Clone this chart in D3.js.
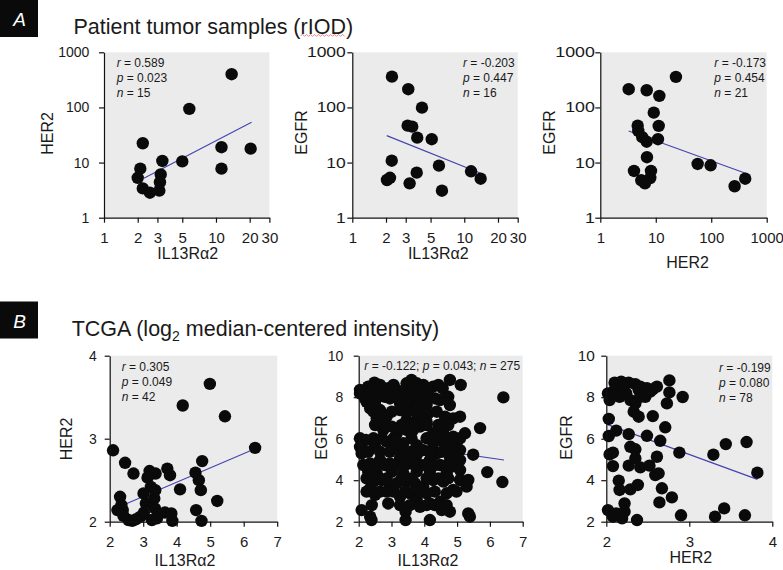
<!DOCTYPE html>
<html><head><meta charset="utf-8">
<script src="https://cdn.jsdelivr.net/npm/d3@7/dist/d3.min.js"></script>
<style>
body{margin:0;background:#fff}
svg{display:block}
text{font-family:"Liberation Sans",Arial,sans-serif;fill:#1a1a1a}
</style>
</head><body><svg id="c" width="783" height="570"></svg>
<script>
// ---------- DATA ----------
const titleA = "Patient tumor samples (rIOD)";
const titleAmark = "rIOD";
const titleB1 = "TCGA (log", titleBsub = "2", titleB2 = " median-centered intensity)";

const xTicksA12 = [1, 2, 3, 5, 10, 20, 30];
const xTicksA3 = [1, 10, 100, 1000];
const yTicksA = [1, 10, 100, 1000];
const xTicksB12 = [2, 3, 4, 5, 6, 7];
const yTicksB1 = [2, 3, 4];
const yTicksB23 = [2, 4, 6, 8, 10];
const xTicksB3 = [2, 3, 4];

// A1: IL13Ra2 vs HER2 (n=15)
const a1_il13 = [13.8, 5.78, 2.22, 11.2, 20.4, 3.32, 5.0, 11.2, 2.11, 2.0, 3.21, 3.16, 2.22, 2.57, 3.12];
const a1_her2 = [400, 94, 22.4, 19, 17.9, 10.7, 10.5, 7.75, 7.75, 5.3, 6.1, 4.4, 3.4, 2.84, 3.1];
const a1_fitX = [2.27, 20.8], a1_fitY = [5.18, 53.8];
const a1_stats = [["r", "0.589"], ["p", "0.023"], ["n", "15"]];

// A2: IL13Ra2 vs EGFR (n=16)
const a2_il13 = [2.26, 3.16, 4.19, 3.12, 3.43, 3.8, 5.12, 2.25, 5.94, 11.5, 14.0, 3.76, 3.25, 6.32, 2.04, 2.17];
const a2_egfr = [362, 214, 99, 46.7, 44.8, 28.3, 26.5, 10.8, 8.8, 6.95, 5.1, 6.56, 4.2, 3.09, 4.83, 5.3];
const a2_fitX = [2.03, 14.0], a2_fitY = [30.8, 6.4];
const a2_stats = [["r", "-0.203"], ["p", "0.447"], ["n", "16"]];

// A3: HER2 vs EGFR (n=21)
const a3_her2 = [23.1, 3.25, 6.86, 11.6, 9.2, 4.72, 11.3, 4.84, 5.71, 6.86, 10.96, 6.94, 4.05, 8.2, 7.96, 5.48, 6.39, 56.9, 97.5, 264, 410];
const a3_egfr = [358, 214, 205, 162, 80.5, 46.7, 46.2, 37.4, 28.8, 23.9, 26.5, 12.5, 7.04, 7.04, 5.25, 4.77, 4.2, 9.43, 8.93, 3.72, 5.1];
const a3_fitX = [3.25, 453], a3_fitY = [37.4, 6.2];
const a3_stats = [["r", "-0.173"], ["p", "0.454"], ["n", "21"]];

// B1: IL13Ra2 vs HER2 (n=42)
const b1_il13 = [4.99,4.18,5.44,2.10,6.34,2.46,4.76,2.71,3.19,3.37,3.72,3.80,4.56,4.66,3.13,3.23,4.10,4.72,3.01,2.31,3.33,5.21,2.35,2.39,3.35,4.58,2.41,2.56,2.67,2.92,3.02,3.26,3.41,3.65,3.84,3.87,4.74,3.08,3.36,2.23,2.79,3.47];
const b1_her2 = [3.66,3.40,3.27,2.86,2.89,2.71,2.73,2.58,2.61,2.58,2.64,2.56,2.59,2.50,2.53,2.42,2.39,2.38,2.34,2.30,2.28,2.25,2.20,2.14,2.16,2.14,2.07,2.02,2.01,2.06,2.11,2.02,2.04,2.11,2.10,2.01,2.01,2.22,2.38,2.14,2.03,2.10];
const b1_fitX = [2.11, 6.34], b1_fitY = [2.15, 2.88];
const b1_stats = [["r", "0.305"], ["p", "0.049"], ["n", "42"]];

// B2: IL13Ra2 vs EGFR (n=275, points as read from the dense cloud)
const b2_il13 = [2.48,2.29,2.04,3.61,3.46,3.77,4.27,4.56,4.78,5.11,2.90,3.16,
 2.04,2.35,2.60,2.24,2.50,2.80,3.06,3.36,3.66,3.97,4.17,4.48,4.73,3.26,3.56,3.87,4.07,4.78,
 2.35,2.65,2.85,2.55,3.26,3.56,3.87,4.12,3.46,3.77,4.07,4.63,4.88,5.09,
 2.04,2.22,2.75,3.01,3.16,3.46,3.66,3.87,4.27,4.58,4.88,5.24,5.70,
 2.04,2.09,2.50,2.85,3.11,3.36,3.77,3.97,4.27,4.48,4.68,4.98,5.09,5.49,3.46,3.77,4.38,4.78,5.09,
 2.35,2.65,2.95,3.26,3.56,3.87,4.17,4.48,4.83,5.09,2.29,2.55,3.01,3.36,3.77,4.17,4.68,
 2.24,2.45,2.35,2.70,2.95,3.16,3.46,3.72,3.97,4.27,4.58,4.88,5.09,5.34,5.92,6.38,5.29,
 2.50,2.85,2.90,3.26,3.56,3.77,4.07,4.17,4.48,4.68,3.87,
 2.09,2.35,2.39,3.43,3.43,4.17,4.78,5.34,5.39,4.53,
 6.41,
 2.65,3.06,3.97,4.43,
 2.19,2.50,2.95,3.21,3.51,3.82,4.33,4.64,
 2.45,3.01,3.41,3.72,4.02,4.38,
 2.50,2.80,3.31,3.61,4.07,4.43,4.73,
 2.45,2.70,3.06,3.61,4.07,4.32,4.73,5.09,
 2.29,2.65,2.95,3.26,3.61,4.17,4.53,4.88,
 2.14,2.50,2.80,3.11,3.41,3.72,4.02,4.32,4.68,
 2.55,2.85,3.31,3.61,4.07,4.43,4.73,
 2.24,2.65,3.06,3.41,3.87,4.32,4.98,
 2.40,3.26,3.56,4.07,4.32,4.68];
const b2_egfr = [8.70,8.51,8.35,8.83,8.67,8.67,8.51,8.43,8.83,8.59,8.43,8.35,
 8.18,8.18,8.27,7.78,7.78,8.02,8.02,8.18,8.35,8.27,8.02,7.86,8.02,7.70,7.70,7.78,7.62,7.62,
 7.46,7.38,7.06,6.98,7.38,7.38,7.30,7.22,6.90,6.90,6.82,7.06,6.98,7.06,
 6.02,5.94,6.42,6.58,6.26,6.42,6.42,6.58,6.26,6.26,6.10,6.26,6.51,
 5.61,5.29,5.61,5.86,5.61,5.78,5.69,5.45,5.78,5.94,5.61,5.78,5.45,5.23,5.29,5.21,5.29,5.13,4.97,
 4.81,4.97,4.81,5.05,4.81,4.73,4.97,4.73,4.65,4.49,4.41,4.33,4.41,4.33,4.41,4.41,4.33,
 4.09,3.93,3.61,4.01,3.69,3.85,3.93,3.85,3.69,4.01,3.93,3.53,4.01,4.01,4.39,3.91,3.69,
 3.29,3.45,2.88,3.20,3.37,3.04,3.37,2.88,2.96,3.37,2.72,
 2.56,2.24,2.08,2.48,2.08,2.08,2.48,2.40,2.24,2.56,
 7.99,
 8.59,8.59,8.59,8.59,
 7.94,7.94,7.94,7.94,7.94,7.94,7.94,7.94,
 7.30,7.30,7.30,7.30,7.30,7.30,
 6.66,6.66,6.66,6.66,6.66,6.66,6.66,
 6.02,6.02,6.02,6.02,6.02,6.02,6.02,6.02,
 5.37,5.37,5.37,5.37,5.37,5.37,5.37,5.37,
 4.73,4.73,4.73,4.73,4.73,4.73,4.73,4.73,4.73,
 4.09,4.09,4.09,4.09,4.09,4.09,4.09,
 3.45,3.45,3.45,3.45,3.45,3.45,3.45,
 2.80,2.80,2.80,2.80,2.80,2.80];
const b2_fitX = [2.04, 6.43], b2_fitY = [5.98, 4.97];
const b2_stats = [["r", "-0.122"], ["p", "0.043"], ["n", "275"]];

// B3: HER2 vs EGFR (n=78)
const b3_her2 = [2.76,2.76,2.92,2.10,2.18,2.27,2.35,2.41,2.49,2.56,2.10,2.02,2.04,2.16,2.24,2.29,2.39,2.47,2.53,2.35,2.20,2.61,2.41,2.73,
 2.56,2.33,2.39,2.03,2.71,2.03,2.12,2.27,2.49,2.65,2.29,2.35,2.35,2.04,2.08,2.08,2.27,2.41,2.52,2.61,2.63,2.59,2.88,
 3.29,3.44,3.69,3.82,2.15,2.16,2.29,2.38,2.67,2.79,2.64,2.22,2.02,2.08,2.22,2.19,2.37,2.12,2.90,3.31,3.42,3.67];
const b3_egfr = [8.81,8.23,8.01,8.70,8.75,8.70,8.63,8.51,8.43,8.38,8.35,8.18,7.86,8.02,8.18,7.86,8.35,8.02,8.27,7.70,8.51,8.51,8.02,7.70,
 7.09,7.30,7.06,6.95,6.55,6.13,6.39,6.22,6.14,5.90,5.61,5.49,5.05,5.24,5.33,4.68,4.70,4.62,4.70,5.13,4.33,4.25,5.33,
 5.23,5.74,5.84,4.36,3.98,3.53,3.56,3.77,3.61,3.17,2.93,2.88,2.56,2.24,2.48,2.16,2.08,2.40,2.31,2.24,2.64,2.31];
const b3_fitX = [2.01, 3.82], b3_fitY = [6.69, 4.04];
const b3_stats = [["r", "-0.199"], ["p", "0.080"], ["n", "78"]];

// ---------- LAYOUT (pixels) ----------
const panels = [
  {xs:a1_il13, ys:a1_her2, fx:a1_fitX, fy:a1_fitY, stats:a1_stats, log:true, xd:[1,30], yd:[1,1000], xt:xTicksA12, yt:yTicksA,
   l:104, r:269.4, t:52.3, b:217.7, ypad:9.7, ystr:1, xTitle:"IL13Rα2", yTitle:"HER2", xtx:187.7, xty:259, ytx:53.3, yty:133.5, sx:116.7, sy:67, inline:false},
  {xs:a2_il13, ys:a2_egfr, fx:a2_fitX, fy:a2_fitY, stats:a2_stats, log:true, xd:[1,30], yd:[1,1000], xt:xTicksA12, yt:yTicksA,
   l:352.3, r:517.7, t:52.3, b:217.7, ypad:1.5, ystr:1.25, xTitle:"IL13Rα2", yTitle:"EGFR", xtx:438.3, xty:259, ytx:306.7, yty:132.5, sx:463, sy:67, inline:false},
  {xs:a3_her2, ys:a3_egfr, fx:a3_fitX, fy:a3_fitY, stats:a3_stats, log:true, xd:[1,1000], yd:[1,1000], xt:xTicksA3, yt:yTicksA,
   l:600.3, r:766.7, t:52.3, b:217.7, ypad:0.5, ystr:1.27, xTitle:"HER2", yTitle:"EGFR", xtx:687.5, xty:267.5, ytx:555, yty:132.5, sx:714.3, sy:67, inline:false},
  {xs:b1_il13, ys:b1_her2, fx:b1_fitX, fy:b1_fitY, stats:b1_stats, log:false, xd:[2,7], yd:[2,4], xt:xTicksB12, yt:yTicksB1,
   l:109.7, r:277.2, t:355.7, b:521.7, ypad:8, ystr:1, xTitle:"IL13Rα2", yTitle:"HER2", xtx:185, xty:566, ytx:71.7, yty:439, sx:121.7, sy:370.5, inline:false},
  {xs:b2_il13, ys:b2_egfr, fx:b2_fitX, fy:b2_fitY, stats:b2_stats, log:false, xd:[2,7], yd:[2,10], xt:xTicksB12, yt:yTicksB23,
   l:358.7, r:522.7, t:355.7, b:521.7, ypad:10.4, ystr:1, xTitle:"IL13Rα2", yTitle:"EGFR", xtx:428, xty:566, ytx:326.7, yty:437.5, sx:364.3, sy:370, inline:true},
  {xs:b3_her2, ys:b3_egfr, fx:b3_fitX, fy:b3_fitY, stats:b3_stats, log:false, xd:[2,4], yd:[2,10], xt:xTicksB3, yt:yTicksB23,
   l:606.3, r:772.3, t:355.7, b:521.7, ypad:6.5, ystr:1.1, xTitle:"HER2", yTitle:"EGFR", xtx:690.8, xty:563, ytx:571.7, yty:437.5, sx:719, sy:371.5, inline:false}
];

const svg = d3.select("#c");

function header(letter, y0, textFn) {
  svg.append("rect").attr("x", 0).attr("y", y0).attr("width", 38).attr("height", 37).attr("fill", "#0a0a0a");
  svg.append("text").attr("x", 19.5).attr("y", y0 + 26).attr("text-anchor", "middle")
    .attr("font-size", 19).attr("font-style", "italic").style("fill", "#fff").text(letter);
  textFn();
}
header("A", 0, () => {
  const t = svg.append("text").attr("x", 73.5).attr("y", 33.5).attr("font-size", 21.5).text(titleA);
  const idx = titleA.indexOf(titleAmark);
  const n = t.node();
  const x0 = 73.5 + n.getSubStringLength(0, idx);
  const x1 = x0 + n.getSubStringLength(idx, titleAmark.length);
  let d = `M${x0},35.5`, up = true;
  for (let x = x0 + 2; x <= x1; x += 2) { d += ` L${x},${up ? 34.4 : 36.4}`; up = !up; }
  svg.append("path").attr("d", d).attr("fill", "none").attr("stroke", "#e46a6a").attr("stroke-width", 0.8);
});
header("B", 301.5, () => {
  const t = svg.append("text").attr("x", 71.7).attr("y", 335.7).attr("font-size", 21.5);
  t.append("tspan").text(titleB1);
  t.append("tspan").attr("font-size", 14).attr("dy", 5).text(titleBsub);
  t.append("tspan").attr("dy", -5).text(titleB2);
});

panels.forEach(p => {
  const x = (p.log ? d3.scaleLog() : d3.scaleLinear()).domain(p.xd).range([p.l, p.r]);
  const y = (p.log ? d3.scaleLog() : d3.scaleLinear()).domain(p.yd).range([p.b, p.t]);
  const g = svg.append("g");

  g.append("rect").attr("x", p.l).attr("y", p.t).attr("width", p.r - p.l).attr("height", p.b - p.t).attr("fill", "#ebebeb");

  g.append("line").attr("x1", x(p.fx[0])).attr("y1", y(p.fy[0])).attr("x2", x(p.fx[1])).attr("y2", y(p.fy[1]))
    .attr("stroke", "#4343b0").attr("stroke-width", 1.1);

  g.selectAll("circle.d").data(p.xs.map((v, i) => [v, p.ys[i]])).join("circle")
    .attr("cx", d => x(d[0])).attr("cy", d => y(d[1])).attr("r", 6.2).attr("fill", "#0a0a0a");

  const fmt = d3.format("d");
  const xa = g.append("g").attr("transform", `translate(0,${p.b})`)
    .call(d3.axisBottom(x).tickValues(p.xt).tickFormat(fmt).tickSize(5).tickSizeOuter(0).tickPadding(9.5));
  const ya = g.append("g").attr("transform", `translate(${p.l},0)`)
    .call(d3.axisLeft(y).tickValues(p.yt).tickFormat(fmt).tickSize(5).tickSizeOuter(0).tickPadding(p.ypad));
  [xa, ya].forEach(a => {
    a.select(".domain").attr("stroke", "#111").attr("stroke-width", 1.2);
    a.selectAll(".tick line").attr("stroke", "#111").attr("stroke-width", 1.2);
    a.selectAll("text").style("fill", "#1a1a1a").attr("font-family", "Liberation Sans, Arial, sans-serif");
  });
  xa.selectAll("text").attr("font-size", 15);
  ya.selectAll("text").attr("font-size", 14)
    .attr("x", -(5 + p.ypad) / p.ystr).attr("transform", `scale(${p.ystr},1)`);

  g.append("text").attr("x", p.xtx).attr("y", p.xty).attr("text-anchor", "middle").attr("font-size", 16).text(p.xTitle);
  g.append("text").attr("transform", `translate(${p.ytx},${p.yty}) rotate(-90)`).attr("text-anchor", "middle")
    .attr("font-size", 16).text(p.yTitle);

  if (p.inline) {
    const t = g.append("text").attr("x", p.sx).attr("y", p.sy).attr("font-size", 12);
    p.stats.forEach((s, i) => {
      if (i) t.append("tspan").text("; ");
      t.append("tspan").attr("font-style", "italic").text(s[0]);
      t.append("tspan").text(" = " + s[1]);
    });
  } else {
    p.stats.forEach((s, i) => {
      const t = g.append("text").attr("x", p.sx).attr("y", p.sy + i * 15.2).attr("font-size", 12);
      t.append("tspan").attr("font-style", "italic").text(s[0]);
      t.append("tspan").text(" = " + s[1]);
    });
  }
});
</script></body></html>
